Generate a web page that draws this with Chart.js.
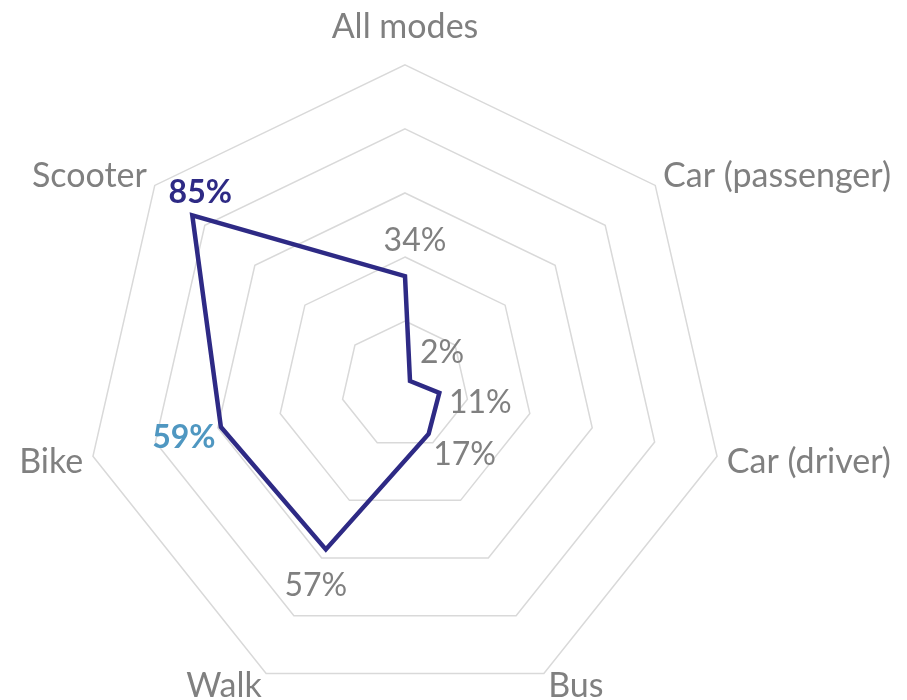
<!DOCTYPE html>
<html lang="en">
<head>
  <meta charset="UTF-8">
  <title>Modes radar</title>
  <script src="https://cdn.jsdelivr.net/npm/chart.js"></script>
  <style>
    html, body { margin: 0; padding: 0; background: #fff; overflow: hidden; }
    .frame { width: 907px; height: 700px; position: relative; overflow: hidden; }
    /* canvas a bit larger than the window: the original crops the bottom labels */
    .wrap { position: absolute; left: -55px; top: -6px; width: 972px; height: 742px; }
  </style>
</head>
<body>
  <div class="frame"><div class="wrap"><canvas id="radar"></canvas></div></div>

<script>
  // categories + values
  const modes = ['All modes', 'Car (passenger)', 'Car (driver)', 'Bus', 'Walk', 'Bike', 'Scooter'];
  const shares = [34, 2, 11, 17, 57, 59, 85];

  // where each value label sits relative to its point (px)
  const labelOffsets = [[10, -35], [32, -28], [41, 10], [36, 21], [-10, 36], [-37, 11], [8, -23]];
  const labelStyles = [null, null, null, null, null, { color: '#4f97c1', bold: true }, { color: '#2e2a85', bold: true }];

  const valueLabels = {
    id: 'valueLabels',
    afterDatasetsDraw(chart) {
      const ctx = chart.ctx;
      const scale = chart.scales.r;
      ctx.save();
      ctx.textAlign = 'center';
      ctx.textBaseline = 'middle';
      shares.forEach((v, i) => {
        const p = scale.getPointPositionForValue(i, v);
        const st = labelStyles[i];
        ctx.fillStyle = st ? st.color : '#808080';
        ctx.font = (st && st.bold ? 'bold ' : '') + '32px Lato, "Open Sans", sans-serif';
        ctx.fillText(v + '%', p.x + labelOffsets[i][0], p.y + labelOffsets[i][1]);
      });
      ctx.restore();
    }
  };

  new Chart(document.getElementById('radar'), {
    type: 'radar',
    data: {
      labels: modes,
      datasets: [{
        data: shares,
        borderColor: '#2e2a85',
        borderWidth: 4.5,
        fill: false,
        pointRadius: 0,
        tension: 0
      }]
    },
    options: {
      responsive: true,
      maintainAspectRatio: false,
      animation: false,
      plugins: { legend: { display: false }, tooltip: { enabled: false } },
      scales: {
        r: {
          min: 0,
          max: 100,
          ticks: { stepSize: 20, display: false },
          angleLines: { display: false },
          grid: { color: '#d9d9d9', lineWidth: 1.5 },
          pointLabels: {
            color: '#808080',
            // top label sits higher above its corner than the others
            padding: (c) => (c.index === 0 ? 34 : 10),
            // tiny line height keeps the side labels centred on their corners
            font: { size: 34, lineHeight: 0.2, family: 'Lato, "Open Sans", sans-serif' }
          }
        }
      }
    },
    plugins: [valueLabels]
  });
</script>
</body>
</html>
